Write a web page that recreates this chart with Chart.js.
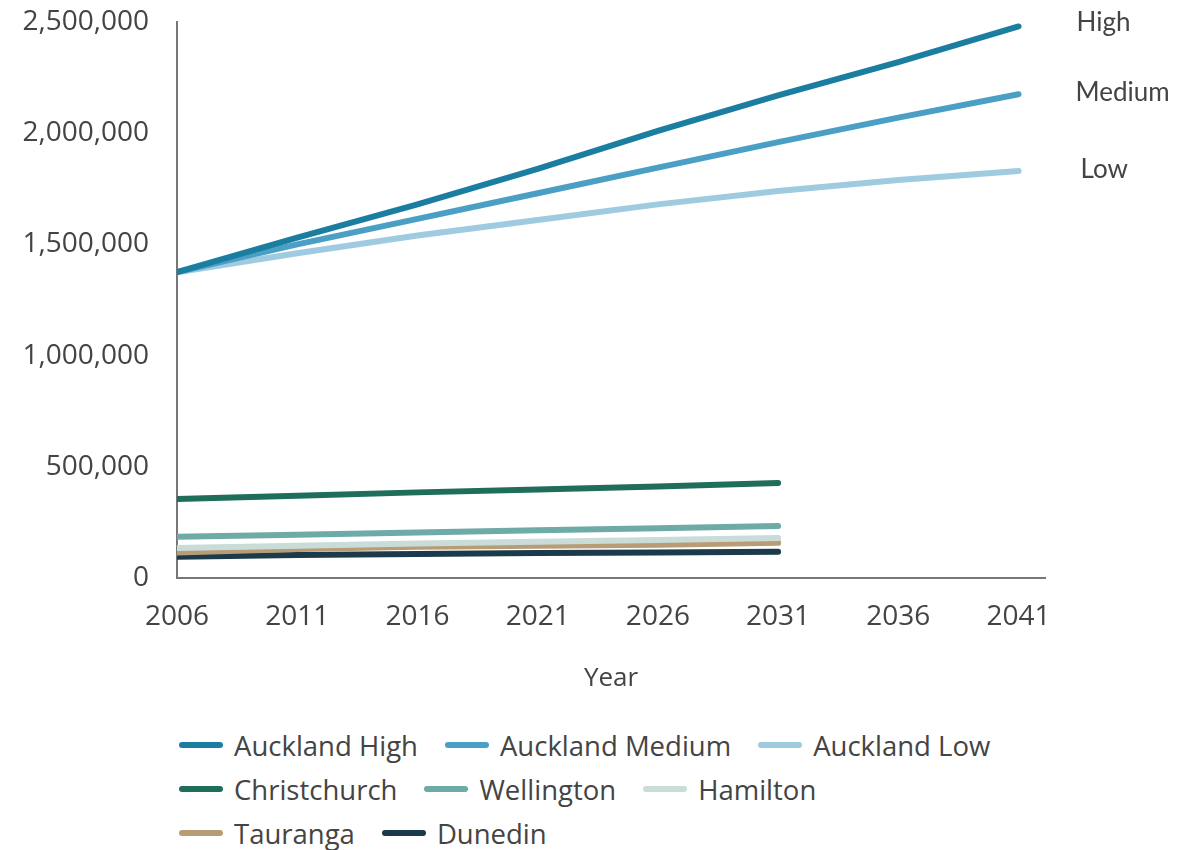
<!DOCTYPE html>
<html>
<head>
<meta charset="utf-8">
<script src="https://cdn.jsdelivr.net/npm/chart.js@4"></script>
<style>
  body { margin: 0; background: #fff; font-family: 'Open Sans', sans-serif; color: #444; }
  #wrap { position: relative; width: 1190px; height: 715px; }
  #legend { width: 900px; margin-left: 179px; margin-top: 8px; }
  .row { display: flex; height: 44px; align-items: center; }
  .item { display: flex; align-items: center; margin-right: 27px; font-size: 27.5px; white-space: nowrap; }
  .swatch { width: 44px; height: 6px; border-radius: 3px; margin-right: 11px; }
</style>
</head>
<body>
<div id="wrap"><canvas id="popChart"></canvas></div>
<div id="legend"></div>
<script>
const years = [2006, 2011, 2016, 2021, 2026, 2031, 2036, 2041];
const yTicks = [0, 500000, 1000000, 1500000, 2000000, 2500000];

const aucklandHigh   = [1375000, 1530000, 1680000, 1840000, 2010000, 2170000, 2320000, 2480000];
const aucklandMedium = [1375000, 1500000, 1615000, 1730000, 1845000, 1960000, 2070000, 2175000];
const aucklandLow    = [1375000, 1460000, 1540000, 1610000, 1680000, 1740000, 1790000, 1830000];
const christchurch   = [355000, 370000, 385000, 398000, 411000, 427000];
const wellington     = [185000, 195000, 205000, 215000, 224000, 234000];
const hamilton       = [135000, 145000, 155000, 163000, 171000, 180000];
const tauranga       = [115000, 130000, 140000, 145000, 150000, 158000];
const dunedin        = [95000, 103000, 108000, 112000, 115000, 118000];

const projLabels = ['High', 'Medium', 'Low'];
const legendRows = [3, 3, 2];

function pts(vals) {
    return vals.map((v, i) => ({ x: years[i], y: v }));
}

function line(label, vals, color) {
    return {
        label: label,
        data: pts(vals),
        borderColor: color,
        backgroundColor: color,
        borderWidth: 6,
        borderCapStyle: 'round',
        pointRadius: 0,
        tension: 0
    };
}

const datasets = [
    line('Auckland High', aucklandHigh, '#1b7ea1'),
    line('Auckland Medium', aucklandMedium, '#4b9fc5'),
    line('Auckland Low', aucklandLow, '#9fcbe1'),
    line('Christchurch', christchurch, '#1f6d5b'),
    line('Wellington', wellington, '#6eaaa6'),
    line('Hamilton', hamilton, '#cadcd8'),
    line('Tauranga', tauranga, '#b79c76'),
    line('Dunedin', dunedin, '#1b3a4b')
];

datasets.forEach((d, i) => { d.order = i; });

// High / Medium / Low labels at the end of the Auckland lines
const endLabels = {
    id: 'endLabels',
    afterDatasetsDraw(chart) {
        const ctx = chart.ctx;
        const xs = chart.scales.x, ys = chart.scales.y;
        ctx.save();
        ctx.font = '26px Lato';
        ctx.fillStyle = '#444';
        ctx.textBaseline = 'middle';
        ctx.textAlign = 'left';
        const offsets = [58, 57, 62];
        const dy = [-4, -2, -1];
        projLabels.forEach((txt, i) => {
            const last = chart.data.datasets[i].data[years.length - 1];
            ctx.fillText(txt, xs.getPixelForValue(last.x) + offsets[i], ys.getPixelForValue(last.y) + dy[i]);
        });
        ctx.restore();
    }
};

const chart = new Chart(document.getElementById('popChart'), {
    type: 'line',
    data: { datasets: datasets },
    options: {
        responsive: true,
        maintainAspectRatio: false,
        animation: false,
        layout: { padding: { top: 22, right: 145, left: 0, bottom: 0 } },
        plugins: { legend: { display: false }, tooltip: { enabled: false } },
        scales: {
            x: {
                type: 'linear',
                min: 2006,
                max: 2042.1,
                afterBuildTicks: axis => { axis.ticks = years.map(v => ({ value: v })); },
                afterFit: s => { s.height = 137; },
                grid: { display: false, drawTicks: false },
                border: { color: '#777', width: 2 },
                ticks: {
                    color: '#444',
                    font: { family: 'Open Sans', size: 28 },
                    padding: 22,
                    maxRotation: 0,
                    autoSkip: false,
                    callback: v => String(v)
                },
                title: {
                    display: true,
                    text: 'Year',
                    color: '#444',
                    font: { family: 'Open Sans', size: 26 },
                    padding: { top: 0, bottom: 21 }
                }
            },
            y: {
                min: 0,
                max: 2500000,
                afterBuildTicks: axis => { axis.ticks = yTicks.map(v => ({ value: v })); },
                afterFit: s => { s.width = 177; s.paddingTop = 0; s.paddingBottom = 0; },
                grid: { display: false, drawTicks: false },
                border: { color: '#777', width: 2 },
                ticks: {
                    color: '#444',
                    font: { family: 'Open Sans', size: 28 },
                    padding: 28,
                    callback: v => v.toLocaleString('en-US')
                }
            }
        }
    },
    plugins: [endLabels]
});

// legend as html, rows split like the reference
const legendEl = document.getElementById('legend');
let start = 0;
legendEl.innerHTML = legendRows.map(n => {
    const row = datasets.slice(start, start + n);
    start += n;
    return `<div class="row">${row.map(d => `
        <div class="item"><span class="swatch" style="background:${d.borderColor}"></span>${d.label}</div>
    `).join('')}</div>`;
}).join('');
</script>
</body>
</html>
